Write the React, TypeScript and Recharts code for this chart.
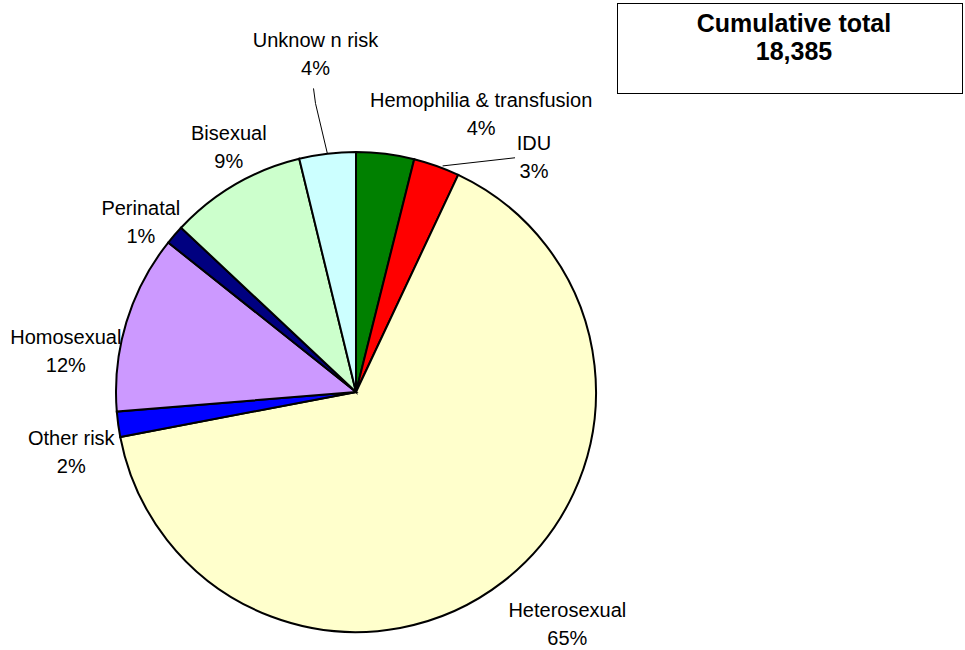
import { PieChart, Pie, Cell } from "recharts"

// risk categories, clockwise from 12 o'clock
const categories = [
  "Hemophilia & transfusion",
  "IDU",
  "Heterosexual",
  "Other risk",
  "Homosexual",
  "Perinatal",
  "Bisexual",
  "Unknow n risk",
]

// share of cumulative cases, percent
const shares = [3.9, 3.1, 65.0, 1.7, 12.0, 1.3, 9.2, 3.8]

const cumulativeTotal = 18385

const colors = [
  "#008000",
  "#FF0000",
  "#FFFFCC",
  "#0000FF",
  "#CC99FF",
  "#000080",
  "#CCFFCC",
  "#CCFFFF",
]

// label distance from centre and angular nudge (deg) per slice
const labelPlacement: Record<string, { r: number; turn: number }> = {
  "Hemophilia & transfusion": { r: 305, turn: -17.2 },
  IDU: { r: 295, turn: -17.5 },
  Heterosexual: { r: 314, turn: 4.5 },
  "Other risk": { r: 291, turn: 4.2 },
  Homosexual: { r: 293, turn: 8.9 },
  Perinatal: { r: 274, turn: 2.6 },
  Bisexual: { r: 276, turn: -2.8 },
  "Unknow n risk": { r: 340, turn: 0 },
}

const data = categories.map((name, i) => ({ name, value: shares[i] }))

const FONT = '"Liberation Sans", Arial, sans-serif'
const RAD = Math.PI / 180

function renderLabel(props: any) {
  const { cx, cy, midAngle, outerRadius, name, percent } = props
  const place = labelPlacement[name] ?? { r: outerRadius + 40, turn: 0 }
  const a = (midAngle + place.turn) * RAD
  const x = cx + place.r * Math.cos(a)
  const y = cy - place.r * Math.sin(a)
  const ex = cx + outerRadius * Math.cos(midAngle * RAD)
  const ey = cy - outerRadius * Math.sin(midAngle * RAD)

  let leader = null
  if (name === "Unknow n risk") {
    leader = (
      <polyline
        points={`${ex},${ey} ${x},${y + 49} ${x - 2},${y + 34}`}
        fill="none"
        stroke="#000"
        strokeWidth={1}
      />
    )
  } else if (name === "IDU") {
    leader = (
      <line x1={ex + 6} y1={ey} x2={x - 19} y2={y + 1} stroke="#000" strokeWidth={1} />
    )
  }

  return (
    <g>
      {leader}
      <text
        x={x}
        y={y - 7}
        textAnchor="middle"
        fill="#000"
        fontFamily={FONT}
        fontSize={20}
      >
        {name}
      </text>
      <text
        x={x}
        y={y + 21}
        textAnchor="middle"
        fill="#000"
        fontFamily={FONT}
        fontSize={20}
      >
        {`${Math.round(percent * 100)}%`}
      </text>
    </g>
  )
}

export default function App() {
  return (
    <div
      style={{
        position: "absolute",
        left: 0,
        top: 0,
        width: 965,
        height: 650,
        background: "#fff",
      }}
    >
      <PieChart width={965} height={650} margin={{ top: 0, right: 0, bottom: 0, left: 0 }}>
        <Pie
          data={data}
          dataKey="value"
          nameKey="name"
          cx={356}
          cy={392}
          outerRadius={240}
          startAngle={90}
          endAngle={-270}
          stroke="#000"
          strokeWidth={2}
          label={renderLabel}
          labelLine={false}
          isAnimationActive={false}
        >
          {data.map((d, i) => (
            <Cell key={d.name} fill={colors[i]} />
          ))}
        </Pie>
      </PieChart>
      <div
        style={{
          position: "absolute",
          left: 617,
          top: 3,
          width: 346,
          height: 91,
          border: "1.5px solid #000",
          fontFamily: FONT,
          fontWeight: "bold",
          fontSize: 25,
          lineHeight: "28px",
          textAlign: "center",
          paddingTop: 5,
          boxSizing: "border-box",
          paddingLeft: 8,
        }}
      >
        <div>Cumulative total</div>
        <div>{cumulativeTotal.toLocaleString("en-US")}</div>
      </div>
    </div>
  )
}
